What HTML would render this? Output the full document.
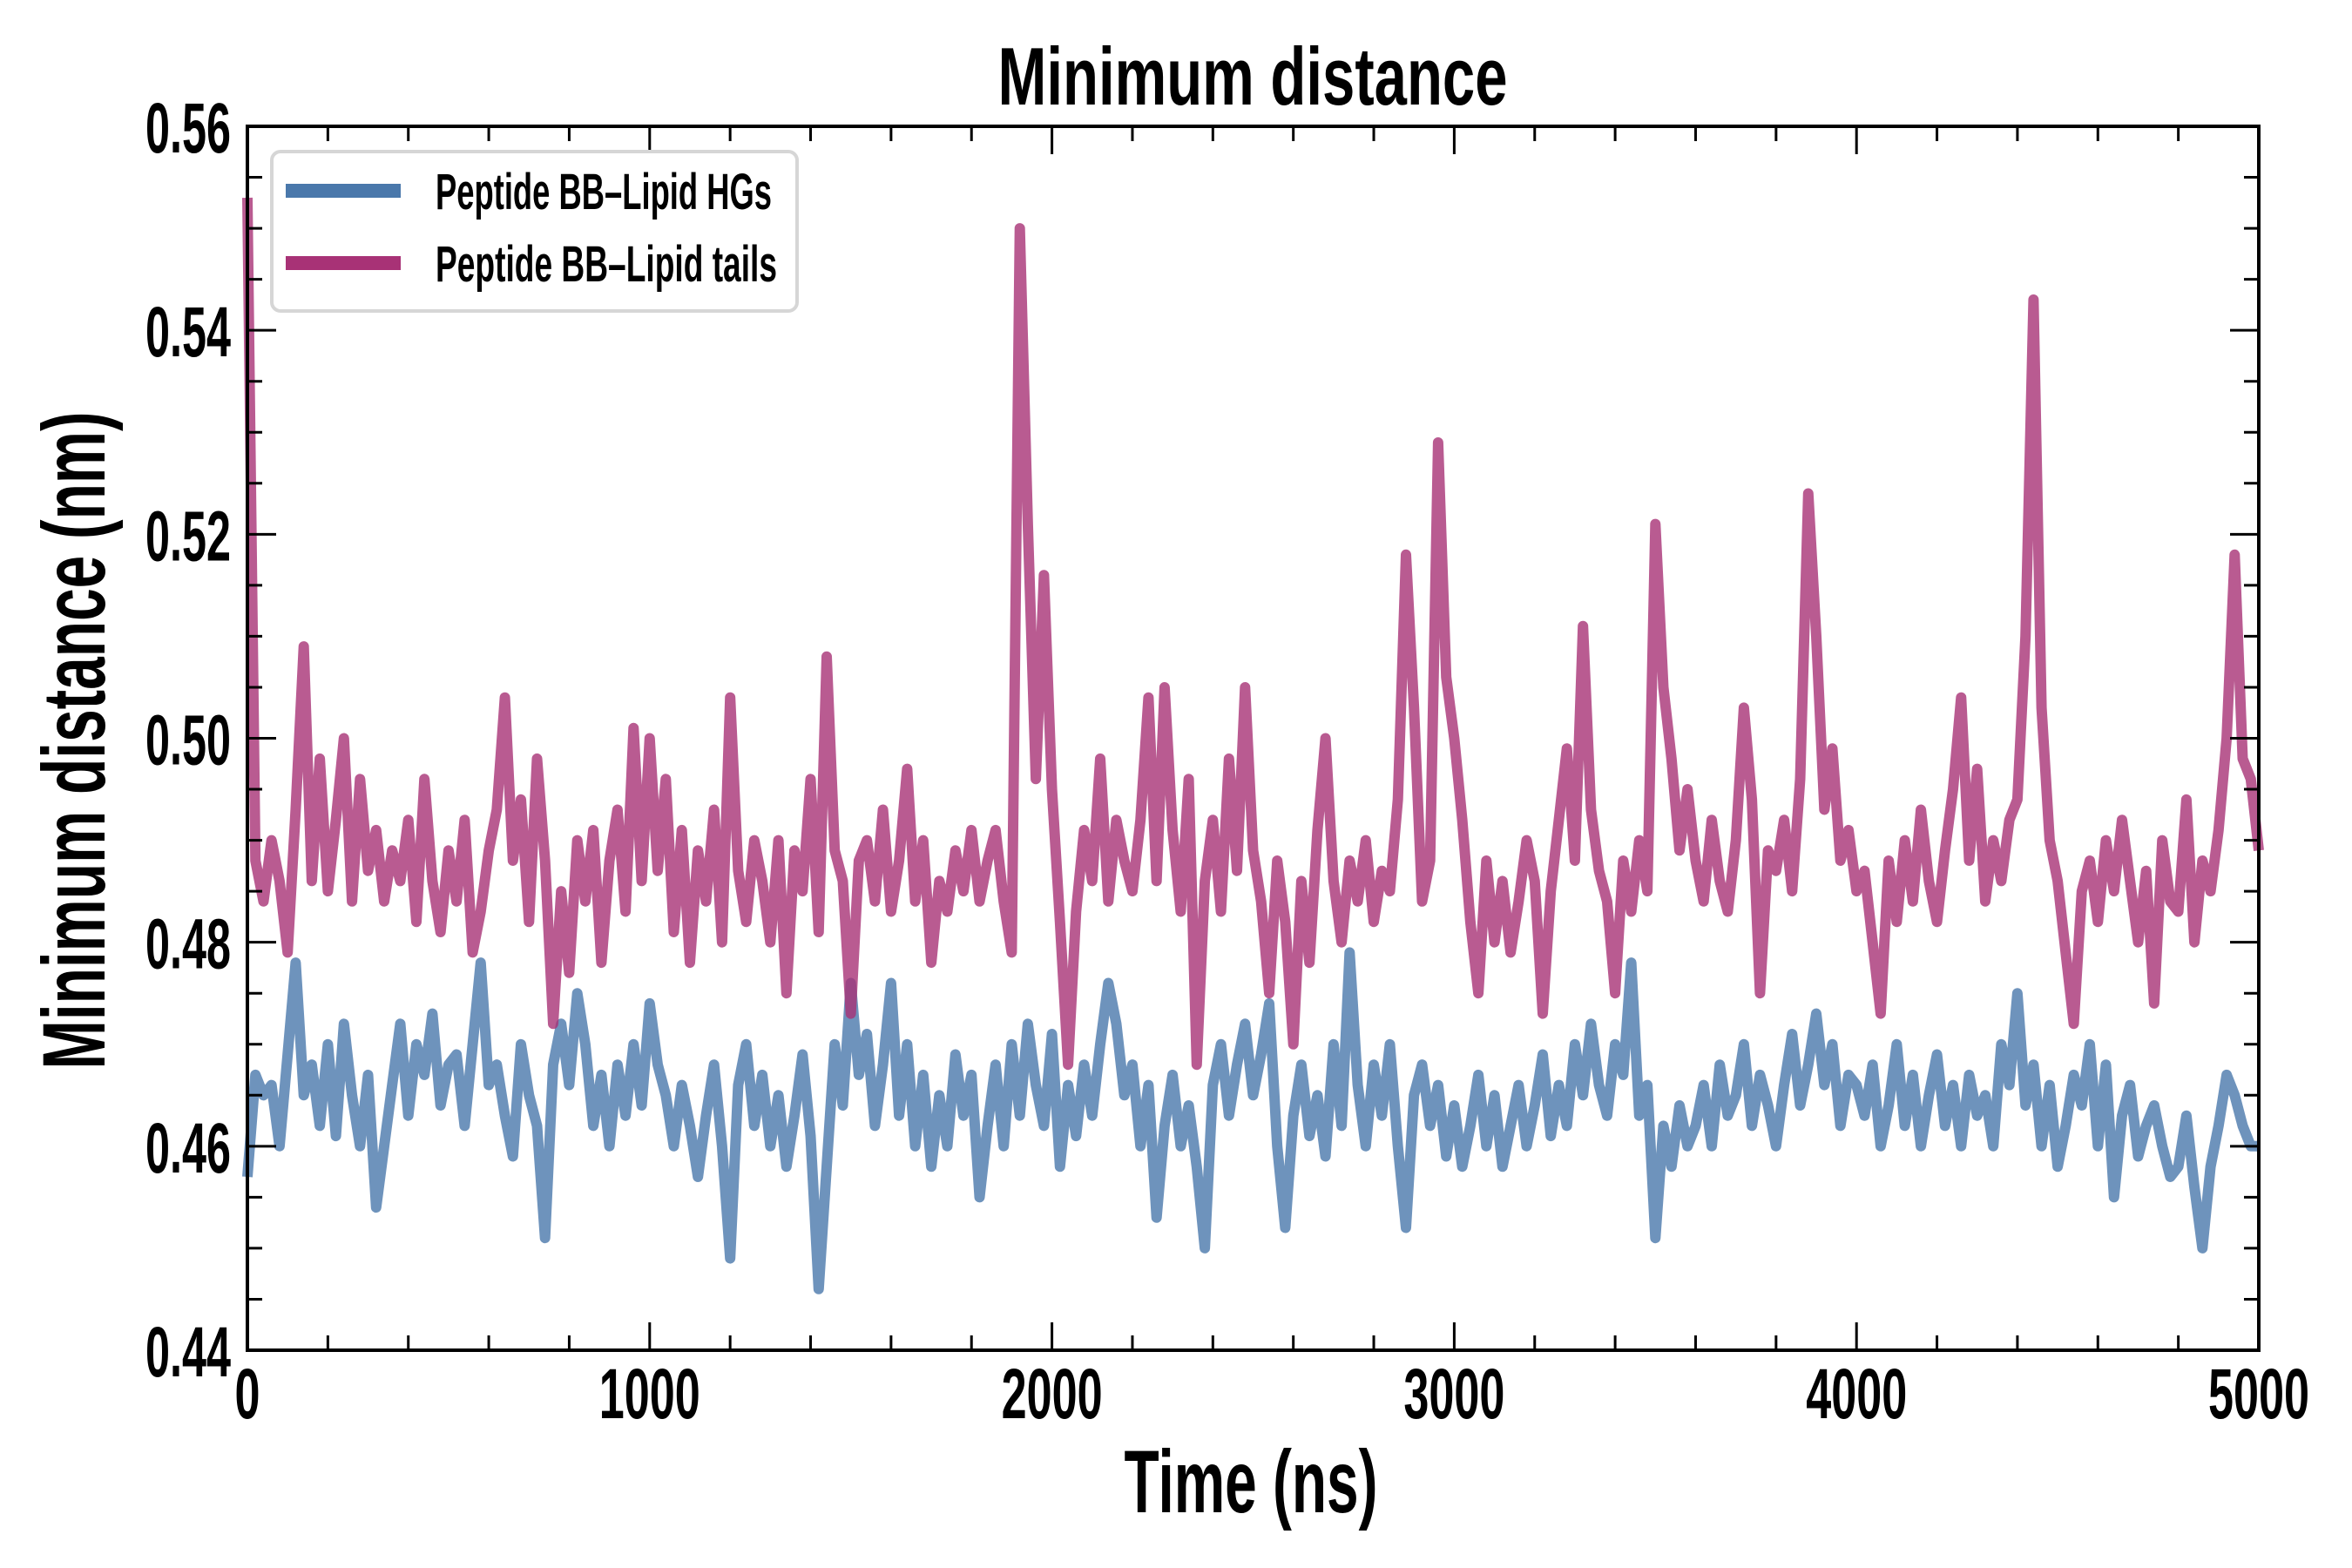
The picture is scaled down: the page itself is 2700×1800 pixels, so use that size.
<!DOCTYPE html>
<html><head><meta charset="utf-8"><style>
html,body{margin:0;padding:0;background:#fff;}
svg{display:block;}
text{font-family:"Liberation Sans Narrow","Liberation Sans",sans-serif;font-weight:bold;fill:#000;}
</style></head><body>
<svg id="chart" width="2700" height="1800" viewBox="0 0 2700 1800" xmlns="http://www.w3.org/2000/svg">
<rect x="0" y="0" width="2700" height="1800" fill="#fff"/>
<text x="1438" y="120" font-size="94" text-anchor="middle" textLength="585" lengthAdjust="spacingAndGlyphs">Minimum distance</text>
<text x="1436" y="1736" font-size="102" text-anchor="middle" textLength="291" lengthAdjust="spacingAndGlyphs">Time (ns)</text>
<text transform="translate(120,850) rotate(-90)" x="0" y="0" font-size="102" text-anchor="middle" textLength="755" lengthAdjust="spacingAndGlyphs">Minimum distance (nm)</text>
<g id="series"></g>
<g id="ticks"></g>
<rect x="284" y="145" width="2309" height="1405" fill="none" stroke="#000" stroke-width="4"/>
<g>
<rect x="312" y="174" width="603" height="183" rx="10" fill="#fff" stroke="#d6d6d6" stroke-width="4"/>
<line x1="328" y1="219" x2="460" y2="219" stroke="#4a78ab" stroke-width="16"/>
<text x="500" y="240" font-size="58" textLength="386" lengthAdjust="spacingAndGlyphs">Peptide BB–Lipid HGs</text>
<line x1="328" y1="302" x2="460" y2="302" stroke="#a83276" stroke-width="16"/>
<text x="500" y="323" font-size="58" textLength="392" lengthAdjust="spacingAndGlyphs">Peptide BB–Lipid tails</text>
</g>
</svg>
<script>
const xTicks = [0, 1000, 2000, 3000, 4000, 5000];
const xTickLabels = ["0", "1000", "2000", "3000", "4000", "5000"];
const yTicks = [0.44, 0.46, 0.48, 0.50, 0.52, 0.54, 0.56];
const yTickLabels = ["0.44", "0.46", "0.48", "0.50", "0.52", "0.54", "0.56"];
const timeStep = 20;
const tailsValues = [
0.553,0.488,0.484,0.490,0.486,0.479,0.493,0.509,0.486,0.498,
0.485,0.492,0.500,0.484,0.496,0.487,0.491,0.484,0.489,0.486,
0.492,0.482,0.496,0.486,0.481,0.489,0.484,0.492,0.479,0.483,
0.489,0.493,0.504,0.488,0.494,0.482,0.498,0.488,0.472,0.485,
0.477,0.490,0.484,0.491,0.478,0.488,0.493,0.483,0.501,0.486,
0.500,0.487,0.496,0.481,0.491,0.478,0.489,0.484,0.493,0.480,
0.504,0.487,0.482,0.490,0.486,0.480,0.490,0.475,0.489,0.485,
0.496,0.481,0.508,0.489,0.486,0.473,0.488,0.490,0.484,0.493,
0.483,0.488,0.497,0.484,0.490,0.478,0.486,0.483,0.489,0.485,
0.491,0.484,0.488,0.491,0.484,0.479,0.550,0.521,0.496,0.516,
0.495,0.482,0.468,0.483,0.491,0.486,0.498,0.484,0.492,0.488,
0.485,0.492,0.504,0.486,0.505,0.491,0.483,0.496,0.468,0.486,
0.492,0.483,0.498,0.487,0.505,0.489,0.484,0.475,0.488,0.482,
0.470,0.486,0.478,0.491,0.500,0.486,0.480,0.488,0.484,0.490,
0.482,0.487,0.485,0.494,0.518,0.503,0.484,0.488,0.529,0.506,
0.500,0.492,0.482,0.475,0.488,0.480,0.486,0.479,0.484,0.490,
0.486,0.473,0.485,0.492,0.499,0.488,0.511,0.493,0.487,0.484,
0.475,0.488,0.483,0.490,0.485,0.521,0.505,0.498,0.489,0.495,
0.488,0.484,0.492,0.486,0.483,0.490,0.503,0.494,0.475,0.489,
0.487,0.492,0.485,0.496,0.524,0.510,0.493,0.499,0.488,0.491,
0.485,0.487,0.480,0.473,0.488,0.482,0.490,0.484,0.493,0.486,
0.482,0.489,0.495,0.504,0.488,0.497,0.484,0.490,0.486,0.492,
0.494,0.510,0.543,0.503,0.490,0.486,0.479,0.472,0.485,0.488,
0.482,0.490,0.485,0.492,0.486,0.480,0.487,0.474,0.490,0.484,
0.483,0.494,0.480,0.488,0.485,0.491,0.500,0.518,0.498,0.496,
0.489];
const hgsValues = [
0.457,0.467,0.465,0.466,0.460,0.469,0.478,0.465,0.468,0.462,
0.470,0.461,0.472,0.465,0.460,0.467,0.454,0.460,0.466,0.472,
0.463,0.470,0.467,0.473,0.464,0.468,0.469,0.462,0.470,0.478,
0.466,0.468,0.463,0.459,0.470,0.465,0.462,0.451,0.468,0.472,
0.466,0.475,0.470,0.462,0.467,0.460,0.468,0.463,0.470,0.464,
0.474,0.468,0.465,0.460,0.466,0.462,0.457,0.463,0.468,0.460,
0.449,0.466,0.470,0.462,0.467,0.460,0.465,0.458,0.463,0.469,
0.461,0.446,0.458,0.470,0.464,0.476,0.467,0.471,0.462,0.468,
0.476,0.463,0.470,0.460,0.467,0.458,0.465,0.460,0.469,0.463,
0.467,0.455,0.462,0.468,0.460,0.470,0.463,0.472,0.466,0.462,
0.471,0.458,0.466,0.461,0.468,0.463,0.470,0.476,0.472,0.465,
0.468,0.460,0.466,0.453,0.462,0.467,0.460,0.464,0.458,0.450,
0.466,0.470,0.463,0.468,0.472,0.465,0.469,0.474,0.460,0.452,
0.463,0.468,0.461,0.465,0.459,0.470,0.462,0.479,0.466,0.460,
0.468,0.463,0.470,0.460,0.452,0.465,0.468,0.462,0.466,0.459,
0.464,0.458,0.462,0.467,0.460,0.465,0.458,0.462,0.466,0.460,
0.464,0.469,0.461,0.466,0.462,0.470,0.465,0.472,0.466,0.463,
0.470,0.467,0.478,0.463,0.466,0.451,0.462,0.458,0.464,0.460,
0.462,0.466,0.460,0.468,0.463,0.465,0.470,0.462,0.467,0.464,
0.460,0.466,0.471,0.464,0.468,0.473,0.466,0.470,0.462,0.467,
0.466,0.463,0.468,0.460,0.464,0.470,0.462,0.467,0.460,0.465,
0.469,0.462,0.466,0.460,0.467,0.463,0.465,0.460,0.470,0.466,
0.475,0.464,0.468,0.460,0.466,0.458,0.462,0.467,0.464,0.470,
0.460,0.468,0.455,0.463,0.466,0.459,0.462,0.464,0.460,0.457,
0.458,0.463,0.456,0.450,0.458,0.462,0.467,0.465,0.462,0.460,
0.460];

const PL = 284, PR = 2593, PT = 145, PB = 1550;
const X0 = 0, X1 = 5000, Y0 = 0.44, Y1 = 0.56;
function xScale(v) { return PL + (v - X0) / (X1 - X0) * (PR - PL); }
function yScale(v) { return PB - (v - Y0) / (Y1 - Y0) * (PB - PT); }
const NS = "http://www.w3.org/2000/svg";

function drawSeries(values, color, name) {
  let d = "";
  values.forEach((v, i) => {
    d += (i ? "L" : "M") + xScale(i * timeStep).toFixed(1) + "," + yScale(v).toFixed(1);
  });
  const p = document.createElementNS(NS, "path");
  p.setAttribute("d", d);
  p.setAttribute("fill", "none");
  p.setAttribute("stroke", color);
  p.setAttribute("stroke-opacity", "0.8");
  p.setAttribute("stroke-width", "12");
  p.setAttribute("stroke-linejoin", "round");
  
  
  document.getElementById("series").appendChild(p);
}
drawSeries(hgsValues, "#4a78ab", "line-lipid-hgs");
drawSeries(tailsValues, "#a83276", "line-lipid-tails");

const tg = document.getElementById("ticks");
function addLine(x1, y1, x2, y2, name) {
  const l = document.createElementNS(NS, "line");
  l.setAttribute("x1", x1); l.setAttribute("y1", y1);
  l.setAttribute("x2", x2); l.setAttribute("y2", y2);
  l.setAttribute("stroke", "#000"); l.setAttribute("stroke-width", "3");
  
  
  tg.appendChild(l);
}
function addText(x, y, s, anchor, len, name) {
  const t = document.createElementNS(NS, "text");
  t.setAttribute("x", x); t.setAttribute("y", y);
  t.setAttribute("font-size", "82");
  t.setAttribute("text-anchor", anchor);
  if (len) { t.setAttribute("textLength", len); t.setAttribute("lengthAdjust", "spacingAndGlyphs"); }
  t.textContent = s;
  
  
  tg.appendChild(t);
}
for (let v = X0; v <= X1; v += 200) {
  const x = xScale(v);
  const major = v % 1000 === 0;
  const L = major ? 32 : 17;
  addLine(x, PB, x, PB - L, "x-tick");
  addLine(x, PT, x, PT + L, "x-tick-top");
}
xTicks.forEach((v, i) => {
  const s = xTickLabels[i];
  addText(xScale(v), 1628, s, "middle", s.length * 29, "x-tick-label");
});
for (let k = 0; k <= 24; k++) {
  const v = Y0 + k * 0.005;
  const y = yScale(v);
  const major = k % 4 === 0;
  const L = major ? 33 : 17;
  addLine(PL, y, PL + L, y, "y-tick");
  addLine(PR, y, PR - L, y, "y-tick-right");
}
yTicks.forEach((v, i) => {
  addText(265, yScale(v) + 30, yTickLabels[i], "end", 98, "y-tick-label");
});
</script>
</body></html>
